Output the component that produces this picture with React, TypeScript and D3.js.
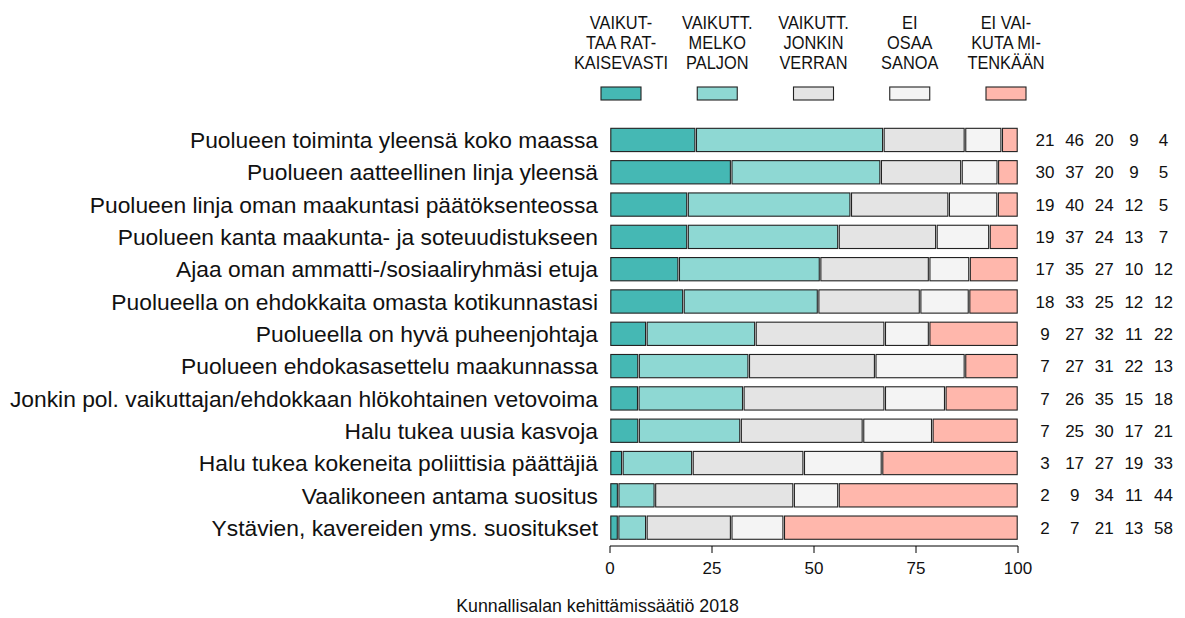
import React, { useEffect, useRef } from 'react';
import * as d3 from 'd3';

const questions = [
  'Puolueen toiminta yleensä koko maassa',
  'Puolueen aatteellinen linja yleensä',
  'Puolueen linja oman maakuntasi päätöksenteossa',
  'Puolueen kanta maakunta- ja soteuudistukseen',
  'Ajaa oman ammatti-/sosiaaliryhmäsi etuja',
  'Puolueella on ehdokkaita omasta kotikunnastasi',
  'Puolueella on hyvä puheenjohtaja',
  'Puolueen ehdokasasettelu maakunnassa',
  'Jonkin pol. vaikuttajan/ehdokkaan hlökohtainen vetovoima',
  'Halu tukea uusia kasvoja',
  'Halu tukea kokeneita poliittisia päättäjiä',
  'Vaalikoneen antama suositus',
  'Ystävien, kavereiden yms. suositukset',
];

const ratkaisevasti = [21, 30, 19, 19, 17, 18, 9, 7, 7, 7, 3, 2, 2];
const melkoPaljon = [46, 37, 40, 37, 35, 33, 27, 27, 26, 25, 17, 9, 7];
const jonkinVerran = [20, 20, 24, 24, 27, 25, 32, 31, 35, 30, 27, 34, 21];
const eiOsaaSanoa = [9, 9, 12, 13, 10, 12, 11, 22, 15, 17, 19, 11, 13];
const eiVaikuta = [4, 5, 5, 7, 12, 12, 22, 13, 18, 21, 33, 44, 58];

const legendLabels = [
  ['VAIKUT-', 'TAA RAT-', 'KAISEVASTI'],
  ['VAIKUTT.', 'MELKO', 'PALJON'],
  ['VAIKUTT.', 'JONKIN', 'VERRAN'],
  ['EI', 'OSAA', 'SANOA'],
  ['EI VAI-', 'KUTA MI-', 'TENKÄÄN'],
];

const xTicks = [0, 25, 50, 75, 100];
const caption = 'Kunnallisalan kehittämissäätiö 2018';

const keys = ['r', 'm', 'j', 'e', 'n'];
const colors = ['#45b8b4', '#8ed8d3', '#e4e4e4', '#f4f4f4', '#ffb7ac'];

export default function App() {
  const ref = useRef<HTMLDivElement>(null);

  useEffect(() => {
    const width = 1185;
    const height = 618;
    const font = 'Liberation Sans, Arial, sans-serif';

    const svg = d3
      .select(ref.current)
      .append('svg')
      .attr('width', width)
      .attr('height', height)
      .style('display', 'block')
      .style('font-family', font);

    const rows = questions.map((q, i) => ({
      q,
      r: ratkaisevasti[i],
      m: melkoPaljon[i],
      j: jonkinVerran[i],
      e: eiOsaaSanoa[i],
      n: eiVaikuta[i],
    }));

    // shares are drawn normalised to 100, labels show the rounded values
    const series = d3.stack<any>().keys(keys).offset(d3.stackOffsetExpand)(rows);

    const x = d3.scaleLinear().domain([0, 100]).range([610, 1018]);
    const y = d3
      .scaleBand()
      .domain(questions)
      .range([123.8, 543.8])
      .paddingInner(0.28)
      .paddingOuter(0.14);

    series.forEach((s, k) => {
      svg
        .append('g')
        .selectAll('rect')
        .data(s)
        .enter()
        .append('rect')
        .attr('x', (d) => x(d[0] * 100) + 0.8)
        .attr('y', (d) => y(d.data.q)!)
        .attr('width', (d) => Math.max(0, x(d[1] * 100) - x(d[0] * 100) - 1.6))
        .attr('height', y.bandwidth())
        .attr('fill', colors[k])
        .attr('stroke', '#222')
        .attr('stroke-width', 1.1);
    });

    // question labels
    svg
      .append('g')
      .selectAll('text')
      .data(questions)
      .enter()
      .append('text')
      .attr('x', 598)
      .attr('y', (d) => y(d)! + y.bandwidth() / 2)
      .attr('dy', '0.36em')
      .attr('text-anchor', 'end')
      .style('font-size', '22.8px')
      .attr('fill', '#111')
      .text((d) => d);

    // value columns
    const col = d3.scalePoint().domain(keys).range([1045, 1163.5]);
    rows.forEach((row) => {
      keys.forEach((k) => {
        svg
          .append('text')
          .attr('x', col(k)!)
          .attr('y', y(row.q)! + y.bandwidth() / 2)
          .attr('dy', '0.36em')
          .attr('text-anchor', 'middle')
          .style('font-size', '17px')
          .attr('fill', '#111')
          .text((row as any)[k]);
      });
    });

    // x axis
    const axisY = 546;
    svg
      .append('line')
      .attr('x1', x(0))
      .attr('x2', x(100))
      .attr('y1', axisY)
      .attr('y2', axisY)
      .attr('stroke', '#000');

    const tick = svg.append('g').selectAll('g').data(xTicks).enter().append('g');
    tick
      .append('line')
      .attr('x1', (d) => x(d))
      .attr('x2', (d) => x(d))
      .attr('y1', axisY)
      .attr('y2', axisY + 7)
      .attr('stroke', '#000');
    tick
      .append('text')
      .attr('x', (d) => x(d))
      .attr('y', 574)
      .attr('text-anchor', 'middle')
      .style('font-size', '17px')
      .attr('fill', '#111')
      .text((d) => d);

    // legend (text is a little condensed in the original)
    const lx = d3.scalePoint().domain(keys).range([621, 1006]);
    keys.forEach((k, i) => {
      legendLabels[i].forEach((line, j) => {
        svg
          .append('text')
          .attr('transform', `translate(${lx(k)},${29 + j * 20}) scale(0.88,1)`)
          .attr('text-anchor', 'middle')
          .style('font-size', '18.6px')
          .attr('fill', '#111')
          .text(line);
      });
      svg
        .append('rect')
        .attr('x', lx(k)! - 20)
        .attr('y', 87)
        .attr('width', 40)
        .attr('height', 13)
        .attr('fill', colors[i])
        .attr('stroke', '#222')
        .attr('stroke-width', 1.1);
    });

    svg
      .append('text')
      .attr('x', 597.5)
      .attr('y', 612)
      .attr('text-anchor', 'middle')
      .style('font-size', '17.8px')
      .attr('fill', '#111')
      .text(caption);

    return () => {
      d3.select(ref.current).select('svg').remove();
    };
  }, []);

  return <div ref={ref} style={{ position: 'absolute', left: 0, top: 0 }}></div>;
}
